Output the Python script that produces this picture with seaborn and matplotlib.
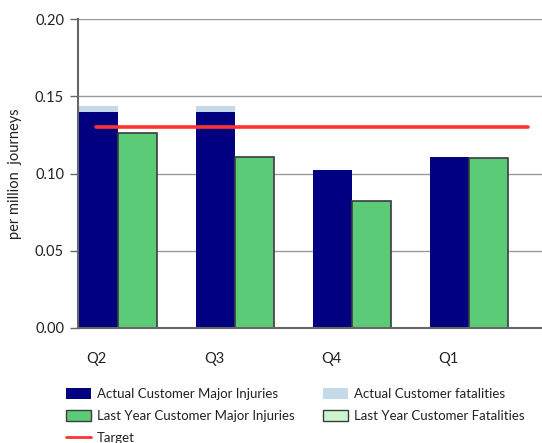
import matplotlib
matplotlib.use("Agg")
import matplotlib.pyplot as plt
from matplotlib.patches import Patch
from matplotlib.lines import Line2D
import seaborn as sns
import pandas as pd

# Quarterly customer injury rates (per million journeys)
quarters = ["Q2", "Q3", "Q4", "Q1"]
actual_major = [0.140, 0.140, 0.102, 0.111]
actual_fatal = [0.004, 0.004, 0.000, 0.000]
last_year_major = [0.126, 0.111, 0.082, 0.110]
last_year_fatal = [0.000, 0.000, 0.000, 0.000]
target = 0.13
y_ticks = [0.00, 0.05, 0.10, 0.15, 0.20]

navy = "#000080"
light_blue = "#c4d9ea"
green = "#5ccb78"
light_green = "#ccf5cc"
red = "#ff3333"

sns.set_theme(style="white")
plt.rcParams["font.family"] = ["Lato", "DejaVu Sans"]

total_df = pd.DataFrame({
    "quarter": quarters * 2,
    "series": ["Actual"] * 4 + ["Last Year"] * 4,
    "value": [a + f for a, f in zip(actual_major, actual_fatal)]
             + [a + f for a, f in zip(last_year_major, last_year_fatal)],
})
major_df = pd.DataFrame({
    "quarter": quarters * 2,
    "series": ["Actual"] * 4 + ["Last Year"] * 4,
    "value": actual_major + last_year_major,
})

fig = plt.figure(figsize=(5.42, 4.43), dpi=100)
ax = fig.add_axes([0.1439, 0.2596, 0.8561, 0.6975])

# fatalities stacked on top of major injuries: draw totals first, then majors
sns.barplot(data=total_df, x="quarter", y="value", hue="series",
            palette=[light_blue, light_green], width=0.667, gap=0,
            saturation=1, errorbar=None, legend=False, linewidth=0, ax=ax)
sns.barplot(data=major_df, x="quarter", y="value", hue="series",
            palette=[navy, green], width=0.667, gap=0,
            saturation=1, errorbar=None, legend=False, linewidth=0, ax=ax)

for bar in ax.containers[3]:
    bar.set_edgecolor("#3c3c3c")
    bar.set_linewidth(1.2)

ax.plot([-0.19, 3.5], [target, target], color=red, lw=2.6, zorder=5)

ax.set_xlim(-0.34, 3.62)
ax.set_ylim(0, 0.2)
ax.set_yticks(y_ticks)
ax.set_yticklabels([f"{v:.2f}" for v in y_ticks])
ax.set_xticks([i - 0.18 for i in range(len(quarters))])
ax.set_xticklabels(quarters)
ax.tick_params(axis="x", length=0, pad=17, labelsize=10.5, colors="#222222")
ax.tick_params(axis="y", length=6, width=1, color="#666666", pad=4,
               labelsize=10.5, colors="#222222", left=True)
ax.set_xlabel("")
ax.set_ylabel("per million  journeys", fontsize=10.5, color="#222222", labelpad=9)

ax.yaxis.grid(True, color="#999999", lw=1)
ax.set_axisbelow(True)
for s in ["top", "right"]:
    ax.spines[s].set_visible(False)
ax.spines["left"].set_color("#666666")
ax.spines["left"].set_linewidth(1.5)
ax.spines["bottom"].set_color("#666666")
ax.spines["bottom"].set_linewidth(1.5)

handles = [
    Patch(facecolor=navy, edgecolor="none"),
    Patch(facecolor=green, edgecolor="#3c3c3c", linewidth=1),
    Line2D([0], [0], color=red, lw=2),
    Patch(facecolor=light_blue, edgecolor="none"),
    Patch(facecolor=light_green, edgecolor="#3c3c3c", linewidth=1),
]
labels = [
    "Actual Customer Major Injuries",
    "Last Year Customer Major Injuries",
    "Target",
    "Actual Customer fatalities",
    "Last Year Customer Fatalities",
]
fig.legend(handles, labels, ncol=2, loc="upper left",
           bbox_to_anchor=(0.110, 0.138), frameon=False, fontsize=9.5,
           handlelength=1.9, handleheight=0.9, handletextpad=0.45,
           columnspacing=2.1, labelspacing=0.75, borderpad=0,
           labelcolor="#222222")

fig.savefig("out.png", dpi=100)
